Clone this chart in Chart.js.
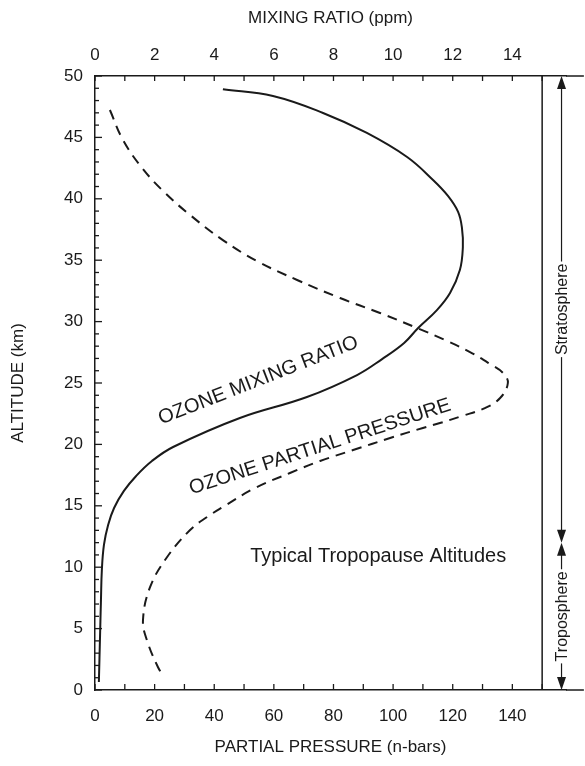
<!DOCTYPE html>
<html><head><meta charset="utf-8">
<script src="https://cdn.jsdelivr.net/npm/chart.js@4.4.1/dist/chart.umd.min.js"></script>
<style>html,body{margin:0;padding:0;background:#fff}#wrap{width:585px;height:766px}</style>
</head><body><div id="wrap"><canvas id="c" width="585" height="766"></canvas></div>
<script>
// ---- data ----
const altitudeMixingKm = [48.92, 48.37, 46.99, 45.36, 43.40, 41.53, 40.23, 38.93, 37.62, 36.07, 34.20, 32.33, 30.94, 29.48, 28.26, 26.95, 25.65, 23.86, 22.15, 19.79, 18.65, 17.43, 16.21, 14.82, 13.44, 11.81, 9.77, 7.33, 4.48, 0.65];
const mixingRatioPpm  = [4.29, 5.97, 7.65, 9.12, 10.47, 11.34, 11.84, 12.18, 12.31, 12.34, 12.24, 11.91, 11.47, 10.84, 10.37, 9.63, 8.79, 7.11, 4.86, 2.62, 1.91, 1.38, 0.97, 0.64, 0.44, 0.30, 0.23, 0.20, 0.17, 0.13];

const altitudePressureKm = [47.23, 44.79, 42.51, 40.55, 38.68, 36.64, 34.93, 33.39, 31.92, 30.70, 29.48, 28.50, 27.52, 26.55, 25.81, 25.00, 23.78, 22.96, 22.31, 21.74, 21.34, 20.52, 19.54, 18.65, 17.67, 16.45, 14.90, 14.09, 13.03, 10.83, 8.39, 5.70, 4.07, 1.87, 1.06];
const partialPressureNbar = [5.0, 9.4, 15.8, 23.2, 31.9, 42.9, 54.3, 67.8, 82.2, 95.6, 108.0, 117.4, 125.8, 132.5, 136.9, 138.5, 135.9, 130.8, 123.1, 115.7, 110.0, 99.0, 86.6, 75.5, 65.4, 53.7, 42.9, 37.6, 31.9, 24.2, 18.5, 16.1, 17.4, 21.1, 23.2];

const bottomTickLabels = [0, 20, 40, 60, 80, 100, 120, 140];
const topTickLabels = [0, 2, 4, 6, 8, 10, 12, 14];
const altitudeTickLabels = [0, 5, 10, 15, 20, 25, 30, 35, 40, 45, 50];
const tropopauseKm = 12;
const topKm = 50;
const frameNbar = 150;

const FONT = "'Liberation Sans', Arial, Helvetica, sans-serif";
const INK = '#1a1a1a';
Chart.defaults.font.family = FONT;
Chart.defaults.color = INK;

const mixingPoints = altitudeMixingKm.map((a, i) => ({x: mixingRatioPpm[i], y: a}));
const pressurePoints = altitudePressureKm.map((a, i) => ({x: partialPressureNbar[i], y: a}));

function arrowHead(ctx, x, tipY, dir) { // dir -1 up, +1 down
  const h = 13, w = 4.5;
  ctx.beginPath();
  ctx.moveTo(x, tipY);
  ctx.lineTo(x - w, tipY - dir * h);
  ctx.lineTo(x + w, tipY - dir * h);
  ctx.closePath();
  ctx.fill();
}

const decor = {
  id: 'decor',
  afterDraw(chart) {
    const ctx = chart.ctx;
    const xs = chart.scales.x, x2 = chart.scales.x2, ys = chart.scales.y;
    const ca = chart.chartArea;
    ctx.save();
    ctx.strokeStyle = INK; ctx.fillStyle = INK; ctx.lineWidth = 1.3;
    // inward ticks
    ys.ticks.forEach(t => {
      const p = ys.getPixelForValue(t.value);
      const len = t.value % 5 === 0 ? 7 : 4;
      ctx.beginPath(); ctx.moveTo(ca.left, p); ctx.lineTo(ca.left + len, p); ctx.stroke();
    });
    xs.ticks.forEach(t => {
      const p = xs.getPixelForValue(t.value);
      ctx.beginPath(); ctx.moveTo(p, ca.bottom); ctx.lineTo(p, ca.bottom - 6); ctx.stroke();
    });
    x2.ticks.forEach(t => {
      const p = x2.getPixelForValue(t.value);
      ctx.beginPath(); ctx.moveTo(p, ca.top); ctx.lineTo(p, ca.top + 5); ctx.stroke();
    });
    // right frame and extended top/bottom lines
    const xf = xs.getPixelForValue(frameNbar);
    const xEnd = xs.getPixelForValue(164);
    ctx.lineWidth = 1.5;
    ctx.beginPath(); ctx.moveTo(xf, ca.top); ctx.lineTo(xf, ca.bottom); ctx.stroke();
    ctx.beginPath(); ctx.moveTo(ca.right, ca.top); ctx.lineTo(xEnd, ca.top); ctx.stroke();
    ctx.beginPath(); ctx.moveTo(ca.right, ca.bottom); ctx.lineTo(xEnd, ca.bottom); ctx.stroke();
    // arrows
    const xa = xs.getPixelForValue(156.5);
    const yTop = ys.getPixelForValue(topKm), yTrop = ys.getPixelForValue(tropopauseKm), y0 = ys.getPixelForValue(0);
    ctx.font = '16px ' + FONT;
    ctx.textAlign = 'center'; ctx.textBaseline = 'middle';
    function segment(yA, yB, label) {
      const mid = (yA + yB) / 2;
      const w = ctx.measureText(label).width / 2 + 2;
      ctx.lineWidth = 1.2;
      ctx.beginPath(); ctx.moveTo(xa, yA + 4); ctx.lineTo(xa, mid - w); ctx.stroke();
      ctx.beginPath(); ctx.moveTo(xa, mid + w); ctx.lineTo(xa, yB - 4); ctx.stroke();
      arrowHead(ctx, xa, yA, -1);
      arrowHead(ctx, xa, yB, 1);
      ctx.save(); ctx.translate(xa, mid); ctx.rotate(-Math.PI / 2);
      ctx.fillText(label, 0, 1); ctx.restore();
    }
    segment(yTop, yTrop, 'Stratosphere');
    segment(yTrop, y0, 'Troposphere');
    // curve labels
    function rotText(txt, vx, vy, deg, size) {
      ctx.save();
      ctx.font = size + 'px ' + FONT;
      ctx.translate(xs.getPixelForValue(vx), ys.getPixelForValue(vy));
      ctx.rotate(deg * Math.PI / 180);
      ctx.fillText(txt, 0, 0);
      ctx.restore();
    }
    rotText('OZONE MIXING RATIO', 54.8, 25.2, -21.4, 20);
    rotText('OZONE PARTIAL PRESSURE', 75.5, 19.8, -18, 20);
    ctx.font = '20px ' + FONT;
    ctx.fillText('Typical Tropopause Altitudes', xs.getPixelForValue(95), ys.getPixelForValue(10.9));
    ctx.restore();
  }
};

const tickFont = {size: 17};
const titleFont = {size: 17};

new Chart(document.getElementById('c'), {
  type: 'scatter',
  data: {
    datasets: [
      {label: 'Ozone mixing ratio (ppm)', data: mixingPoints, xAxisID: 'x2', yAxisID: 'y', showLine: true,
       borderColor: INK, borderWidth: 2, pointRadius: 0, tension: 0.4, fill: false},
      {label: 'Ozone partial pressure (n-bars)', data: pressurePoints, xAxisID: 'x', yAxisID: 'y', showLine: true,
       borderColor: INK, borderWidth: 2, borderDash: [10, 7], pointRadius: 0, tension: 0.4, fill: false}
    ]
  },
  options: {
    responsive: false, animation: false, devicePixelRatio: 1,
    layout: {padding: {left: 0, right: 19, top: 0, bottom: 0}},
    plugins: {legend: {display: false}, tooltip: {enabled: false}},
    scales: {
      x: {type: 'linear', position: 'bottom', min: 0, max: 158,
        afterFit: s => { s.height = 76; },
        ticks: {stepSize: 10, includeBounds: false, autoSkip: false, maxRotation: 0, padding: 16, font: tickFont, color: INK,
          callback: v => bottomTickLabels.includes(v) ? String(v) : ''},
        grid: {drawOnChartArea: false, drawTicks: false},
        border: {display: true, color: INK, width: 1.5},
        title: {display: true, text: 'PARTIAL PRESSURE (n-bars)', font: titleFont, color: INK, padding: {top: 0, bottom: 8}}},
      x2: {type: 'linear', position: 'top', min: 0, max: 15.8,
        afterFit: s => { s.height = 76; },
        ticks: {stepSize: 1, includeBounds: false, autoSkip: false, maxRotation: 0, padding: 10, font: tickFont, color: INK,
          callback: v => topTickLabels.includes(v) ? String(v) : ''},
        grid: {drawOnChartArea: false, drawTicks: false},
        border: {display: true, color: INK, width: 1.5},
        title: {display: true, text: 'MIXING RATIO (ppm)', font: titleFont, color: INK, padding: {top: 8, bottom: 0}}},
      y: {type: 'linear', position: 'left', min: 0, max: 50,
        afterFit: s => { s.width = 95; },
        ticks: {stepSize: 1, autoSkip: false, padding: 12, font: tickFont, color: INK,
          callback: v => altitudeTickLabels.includes(v) ? String(v) : ''},
        grid: {drawOnChartArea: false, drawTicks: false},
        border: {display: true, color: INK, width: 1.5},
        title: {display: true, text: 'ALTITUDE (km)', font: titleFont, color: INK, padding: {top: 8, bottom: 0}}}
    }
  },
  plugins: [decor]
});
</script></body></html>
